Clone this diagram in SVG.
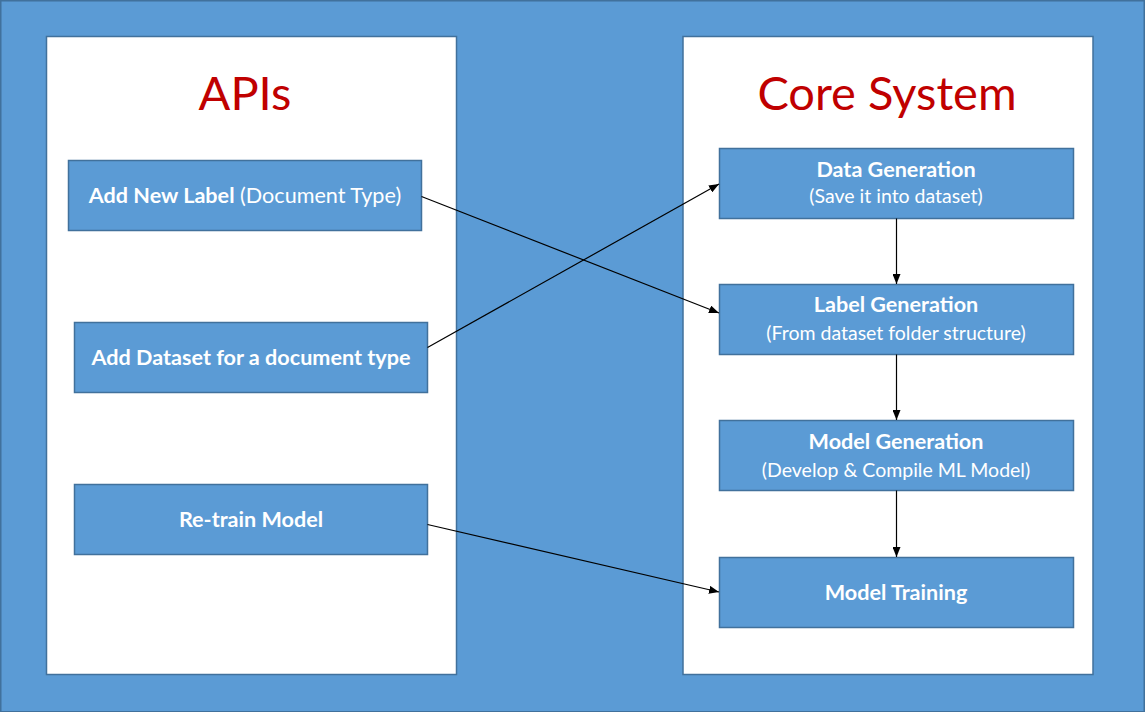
<svg xmlns="http://www.w3.org/2000/svg" width="1145" height="712" viewBox="0 0 1145 712">
<style>
.panel{fill:#ffffff;stroke:#41719C;stroke-width:1.5}
.box{fill:#5B9BD5;stroke:#41719C;stroke-width:1.5}
.title{font-family:Lato,"Open Sans",sans-serif;font-size:47px;fill:#C00000;text-anchor:middle}
.t{font-family:Lato,"Open Sans",sans-serif;fill:#ffffff;text-anchor:middle}
.b{font-weight:bold;font-size:21.6px}
.s{font-size:19.5px}
.n{font-weight:normal;font-size:21.6px}
.conn{stroke:#000000;stroke-width:1.2;fill:none;marker-end:url(#ah)}
</style>
<defs>
<marker id="ah" markerWidth="10" markerHeight="8" refX="10" refY="4" orient="auto" markerUnits="userSpaceOnUse">
<path d="M0,0 L10,4 L0,8 Z" fill="#000000"/>
</marker>
</defs>
<rect x="0.75" y="0.75" width="1143.5" height="711" fill="#5B9BD5" stroke="#41719C" stroke-width="1.5"/>
<g id="panel-apis">
<rect class="panel" x="46.5" y="36.5" width="410" height="638"/>
<text class="title" x="245" y="110">APIs</text>
</g>
<g id="panel-core">
<rect class="panel" x="683" y="36.5" width="410" height="638"/>
<text class="title" x="887" y="110">Core System</text>
</g>
<g id="api-add-label">
<rect class="box" x="68.5" y="160.5" width="353" height="70"/>
<text class="t" x="245" y="203"><tspan class="b">Add New Label</tspan><tspan class="n"> (Document Type)</tspan></text>
</g>
<g id="api-add-dataset">
<rect class="box" x="74.5" y="322.5" width="353" height="70"/>
<text class="t b" x="251" y="365">Add Dataset for a document type</text>
</g>
<g id="api-retrain">
<rect class="box" x="74.5" y="484.5" width="353" height="70"/>
<text class="t b" x="251" y="527">Re-train Model</text>
</g>
<g id="core-data-gen">
<rect class="box" x="719.5" y="148.5" width="354" height="70"/>
<text class="t b" x="896" y="177">Data Generation</text>
<text class="t s" x="896" y="203">(Save it into dataset)</text>
</g>
<g id="core-label-gen">
<rect class="box" x="719.5" y="284.5" width="354" height="70"/>
<text class="t b" x="896" y="312">Label Generation</text>
<text class="t s" x="896" y="340">(From dataset folder structure)</text>
</g>
<g id="core-model-gen">
<rect class="box" x="719.5" y="420.5" width="354" height="70"/>
<text class="t b" x="896" y="449">Model Generation</text>
<text class="t s" x="896" y="477">(Develop &amp; Compile ML Model)</text>
</g>
<g id="core-model-train">
<rect class="box" x="719.5" y="557.5" width="354" height="70"/>
<text class="t b" x="896" y="600">Model Training</text>
</g>
<g id="connectors">
<line class="conn" x1="421.5" y1="196.5" x2="719" y2="313"/>
<line class="conn" x1="427.5" y1="347.5" x2="719" y2="184"/>
<line class="conn" x1="427.5" y1="524.5" x2="719" y2="592"/>
<line class="conn" x1="896.5" y1="218.5" x2="896.5" y2="284"/>
<line class="conn" x1="896.5" y1="354.5" x2="896.5" y2="420"/>
<line class="conn" x1="896.5" y1="490.5" x2="896.5" y2="557"/>
</g>
</svg>
